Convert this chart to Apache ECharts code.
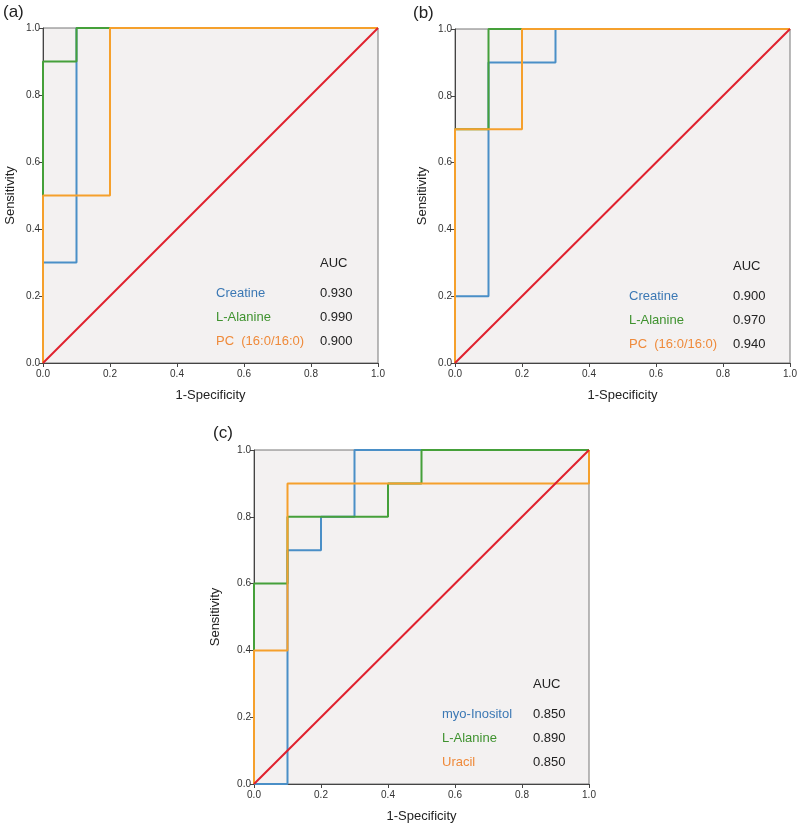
<!DOCTYPE html>
<html>
<head>
<meta charset="utf-8">
<script src="https://cdn.jsdelivr.net/npm/echarts@6/dist/echarts.min.js"></script>
<style>
  html, body { margin: 0; padding: 0; background: #fff; }
  #chart { width: 799px; height: 829px; }
</style>
</head>
<body>
<div id="chart"></div>
<script>
// panel labels and axis ticks
var panelLabels = ['(a)', '(b)', '(c)'];
var tickValues = [0, 0.2, 0.4, 0.6, 0.8, 1.0];

// ROC curves, points are [1-specificity, sensitivity]
var creatineA = [[0, 0], [0, 0.3], [0.1, 0.3], [0.1, 1], [1, 1]];
var alanineA = [[0, 0], [0, 0.9], [0.1, 0.9], [0.1, 1], [1, 1]];
var pcA = [[0, 0], [0, 0.5], [0.2, 0.5], [0.2, 1], [1, 1]];

var creatineB = [[0, 0], [0, 0.2], [0.1, 0.2], [0.1, 0.9], [0.3, 0.9], [0.3, 1], [1, 1]];
var alanineB = [[0, 0], [0, 0.7], [0.1, 0.7], [0.1, 1], [1, 1]];
var pcB = [[0, 0], [0, 0.7], [0.2, 0.7], [0.2, 1], [1, 1]];

var inositolC = [[0, 0], [0.1, 0], [0.1, 0.7], [0.2, 0.7], [0.2, 0.8], [0.3, 0.8], [0.3, 1], [1, 1]];
var alanineC = [[0, 0], [0, 0.6], [0.1, 0.6], [0.1, 0.8], [0.4, 0.8], [0.4, 0.9], [0.5, 0.9], [0.5, 1], [1, 1]];
var uracilC = [[0, 0], [0, 0.4], [0.1, 0.4], [0.1, 0.9], [1, 0.9], [1, 1]];

var refLine = [[0, 0], [1, 1]];

// legend names and AUC values
var namesA = ['Creatine', 'L-Alanine', 'PC\u00a0 (16:0/16:0)'];
var aucA = ['0.930', '0.990', '0.900'];
var namesB = ['Creatine', 'L-Alanine', 'PC\u00a0 (16:0/16:0)'];
var aucB = ['0.900', '0.970', '0.940'];
var namesC = ['myo-Inositol', 'L-Alanine', 'Uracil'];
var aucC = ['0.850', '0.890', '0.850'];

var lineColors = ['#4a8fc7', '#45a03a', '#f5a02c'];
var textColors = ['#3b78b4', '#3f922f', '#ef8a3a'];
var refColor = '#e0212e';
var font = 'Liberation Sans, Arial, sans-serif';

var grids = [
    { left: 43, top: 28, width: 335, height: 335 },
    { left: 455, top: 29, width: 335, height: 334 },
    { left: 254, top: 450, width: 335, height: 334 }
];
var yNameGaps = [26, 26, 32];
var curves = [[creatineA, alanineA, pcA], [creatineB, alanineB, pcB], [inositolC, alanineC, uracilC]];
var names = [namesA, namesB, namesC];
var aucs = [aucA, aucB, aucC];
// legend block anchor: name x, value x, AUC header y
var legendPos = [[216, 320, 263], [629, 733, 266], [442, 533, 684]];
var labelPos = [[3, 12], [413, 13], [213, 433]];

function makeAxis(i, isX) {
    return {
        type: 'value',
        gridIndex: i,
        min: 0,
        max: 1,
        interval: 0.2,
        name: isX ? '1-Specificity' : 'Sensitivity',
        nameLocation: 'middle',
        nameGap: isX ? 26 : yNameGaps[i],
        nameTextStyle: { fontSize: 13, color: '#222', fontFamily: font },
        axisLine: { show: true, onZero: false, lineStyle: { color: '#444', width: 1 } },
        axisTick: { show: true, length: 4, lineStyle: { color: '#444' } },
        axisLabel: {
            fontSize: 10, color: '#333', fontFamily: font, margin: isX ? 6 : 3,
            formatter: function (v) { return v.toFixed(1); }
        },
        splitLine: { show: false }
    };
}

var option = { animation: false, grid: [], xAxis: [], yAxis: [], series: [], graphic: [] };

for (var i = 0; i < 3; i++) {
    option.grid.push({
        left: grids[i].left, top: grids[i].top, width: grids[i].width, height: grids[i].height,
        containLabel: false, outerBoundsMode: 'none',
        show: true, backgroundColor: '#f3f1f1', borderColor: '#777', borderWidth: 1
    });
    option.xAxis.push(makeAxis(i, true));
    option.yAxis.push(makeAxis(i, false));

    for (var k = 0; k < 3; k++) {
        option.series.push({
            type: 'line', xAxisIndex: i, yAxisIndex: i,
            data: curves[i][k], showSymbol: false, symbol: 'none',
            lineStyle: { color: lineColors[k], width: 2 }
        });
    }
    option.series.push({
        type: 'line', xAxisIndex: i, yAxisIndex: i,
        data: refLine, showSymbol: false, symbol: 'none',
        lineStyle: { color: refColor, width: 2 }
    });

    var lp = legendPos[i];
    option.graphic.push({
        type: 'text', x: labelPos[i][0], y: labelPos[i][1],
        style: { text: panelLabels[i], font: '17px ' + font, fill: '#222', verticalAlign: 'middle' }
    });
    option.graphic.push({
        type: 'text', x: lp[1], y: lp[2],
        style: { text: 'AUC', font: '13px ' + font, fill: '#222', verticalAlign: 'middle' }
    });
    for (var k = 0; k < 3; k++) {
        var yy = lp[2] + 30.5 + k * 23.8;
        option.graphic.push({
            type: 'text', x: lp[0], y: yy,
            style: { text: names[i][k], font: '13px ' + font, fill: textColors[k], verticalAlign: 'middle' }
        });
        option.graphic.push({
            type: 'text', x: lp[1], y: yy,
            style: { text: aucs[i][k], font: '13px ' + font, fill: '#222', verticalAlign: 'middle' }
        });
    }
}

var chart = echarts.init(document.getElementById('chart'));
chart.setOption(option);
</script>
</body>
</html>
